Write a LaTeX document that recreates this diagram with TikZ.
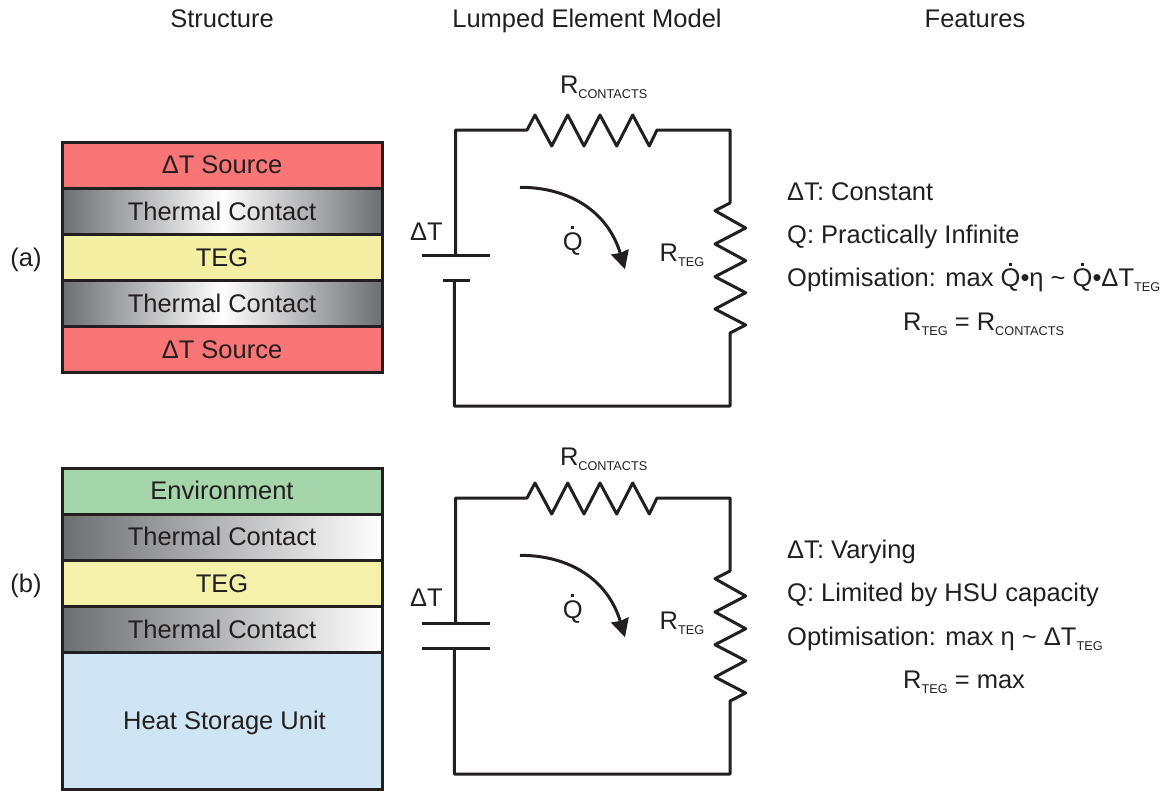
\documentclass[tikz,border=0pt]{standalone}
\usepackage{fontspec}
\setmainfont{Liberation Sans}
\usetikzlibrary{arrows.meta}
\definecolor{ink}{HTML}{231F20}
\definecolor{srcred}{HTML}{FA7575}
\definecolor{tegyellow}{HTML}{F4EFA3}
\definecolor{envgreen}{HTML}{A5D6AB}
\definecolor{hsublue}{HTML}{D0E5F3}
\definecolor{contactgrey}{HTML}{6D6E71}
\newcommand{\sub}[1]{\raisebox{-5pt}{\fontsize{12.7}{14}\selectfont #1}}
\newcommand{\Qdot}{\ooalign{Q\cr\hidewidth\raisebox{21pt}{\rule{2.7pt}{2.7pt}}\hidewidth\cr}}
\tikzset{
    txt/.style={anchor=base west,inner sep=0pt,text=ink,font=\fontsize{25.5}{30}\selectfont},
    head/.style={anchor=base,inner sep=0pt,text=ink,font=\fontsize{25.5}{30}\selectfont},
    layer/.style={draw=ink,line width=3pt,minimum width=320pt,inner sep=0pt,outer sep=0pt,
        text=ink,text height=18pt,text depth=0pt,font=\fontsize{25.5}{30}\selectfont},
    thin layer/.style={layer,minimum height=46pt},
    nudged/.style={text depth=2pt},
    contact/.style={thin layer,left color=contactgrey,right color=contactgrey,middle color=white},
    contact one/.style={thin layer,left color=contactgrey,right color=white},
    wire/.style={draw=ink,line width=3pt,line join=round}
}
\begin{document}
\begin{tikzpicture}[x=1pt,y=-1pt]
    \useasboundingbox (0,0) rectangle (1167,790);
    \node (S) at (222,27) [head]{Structure};
    \node (L) at (587,27) [head]{Lumped Element Model};
    \node (F) at (975,27) [head]{Features};
    \node (a) at (26,266) [head]{(a)};
    \node (b) at (26,592) [head]{(b)};
    % top stack
    \node (A1) at (222,165.5) [thin layer,nudged,fill=srcred]{ΔT Source};
    \node (A2) at (222,211.5) [contact]{Thermal Contact};
    \node (A3) at (222,257.5) [thin layer,fill=tegyellow]{TEG};
    \node (A4) at (222,303.5) [contact]{Thermal Contact};
    \node (A5) at (222,349.5) [thin layer,fill=srcred]{ΔT Source};
    % bottom stack
    \node (B1) at (222,491) [thin layer,nudged,fill=envgreen]{Environment};
    \node (B2) at (222,537) [contact one,nudged]{Thermal Contact};
    \node (B3) at (222,583) [thin layer,fill=tegyellow!92!white]{TEG};
    \node (B4) at (222,629) [contact one]{Thermal Contact};
    \node (B5) at (222,720.5) [layer,fill=hsublue,minimum height=137pt]{\hspace*{5pt}Heat Storage Unit};
    % circuits
    \foreach \N/\dy/\pl/\pr in {a/0/443/470,b/368/422/490}{
        \begin{scope}[shift={(0,\dy)}]
        \coordinate (\N TL) at (455.7,130);
        \coordinate (\N TR) at (730,130);
        \coordinate (\N BL) at (454.3,406);
        \coordinate (\N BR) at (730,406);
        \coordinate (\N R1) at (527,130);
        \coordinate (\N R2) at (657,130);
        \coordinate (\N R3) at (730,203);
        \coordinate (\N R4) at (730,333);
        \coordinate (\N P1) at (455.7,255.3);
        \coordinate (\N P2) at (454.3,280.7);
        \coordinate (\N PA) at (422,255.3);
        \coordinate (\N PB) at (490,255.3);
        \coordinate (\N PC) at (\pl,280.7);
        \coordinate (\N PD) at (\pr,280.7);
        \coordinate (\N QA) at (520,187.3);
        \coordinate (\N QB) at (625,269.3);
        \draw[wire] (\N P1) -- (\N TL) -- (\N R1) -- (535,115) -- (551.7,146) -- (567.7,115)
            -- (584,146) -- (600,115) -- (616.7,146) -- (632.7,115) -- (649.3,146) -- (\N R2)
            -- (\N TR) -- (\N R3) -- (715,210.7) -- (745.7,228) -- (715,244) -- (745.7,260.7)
            -- (715,276.7) -- (745.7,292.7) -- (715,309) -- (745.7,325) -- (\N R4)
            -- (\N BR) -- (\N BL) -- (\N P2);
        \draw[wire] (\N PA) -- (\N PB);
        \draw[wire] (\N PC) -- (\N PD);
        \draw[wire,-{Stealth[length=18pt,width=18pt,inset=1pt]}] (\N QA)
            .. controls (570,187.3) and (608,212) .. (\N QB);
        \node (\N Q) at (562.7,250) [txt]{\Qdot};
        \node (\N RT) at (659.5,261.7) [txt]{R\sub{TEG}};
        \end{scope}
    }
    \node (aRC) at (559.8,93.3) [txt]{R\sub{CONTACTS}};
    \node (bRC) at (559.8,465) [txt]{R\sub{CONTACTS}};
    \node (aDT) at (410,240) [txt]{ΔT};
    \node (bDT) at (410,606.7) [txt]{ΔT};
    % features
    \node (F1) at (787,200) [txt]{ΔT: Constant};
    \node (F2) at (787,243) [txt]{Q: Practically Infinite};
    \node (F3) at (787,286.5) [txt]{Optimisation: max \Qdot•η \textasciitilde{} \Qdot•ΔT\sub{TEG}};
    \node (F4) at (903,330.5) [txt]{R\sub{TEG} = R\sub{CONTACTS}};
    \node (G1) at (787,558) [txt]{ΔT: Varying};
    \node (G2) at (787,601) [txt]{Q: Limited by HSU capacity};
    \node (G3) at (787,645) [txt]{Optimisation: max η \textasciitilde{} ΔT\sub{TEG}};
    \node (G4) at (903,688.5) [txt]{R\sub{TEG} = max};
\end{tikzpicture}
\end{document}
